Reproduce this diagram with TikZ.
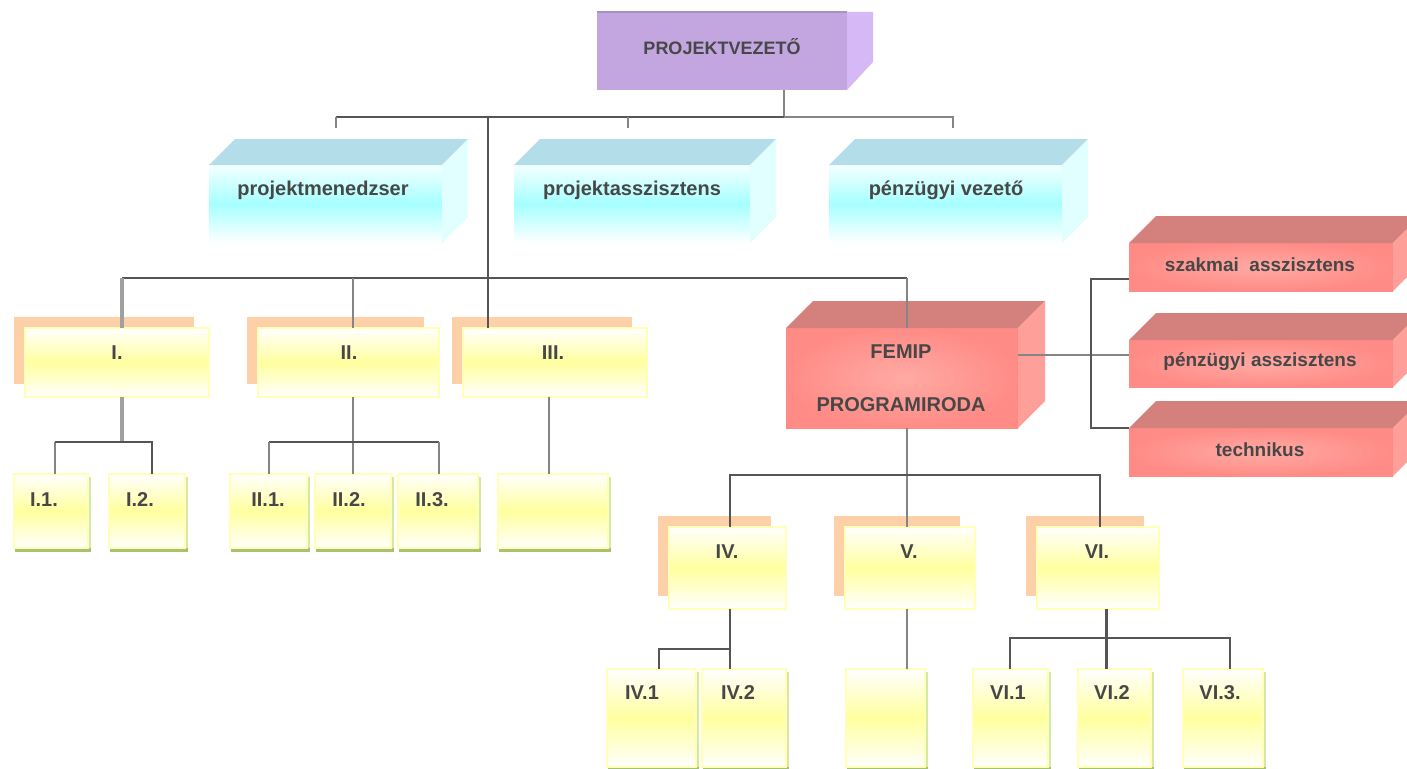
\documentclass[tikz,border=0pt]{standalone}
\usepackage{fontspec}
\setmainfont{Liberation Sans}
\usetikzlibrary{backgrounds}
\definecolor{tx}{HTML}{474747}
\definecolor{lnd}{HTML}{555555}
\definecolor{lng}{HTML}{858585}
\definecolor{lnl}{HTML}{A0A0A0}
\definecolor{pvfront}{HTML}{C3A6E0}
\definecolor{pvside}{HTML}{D7B8F7}
\definecolor{pvedge}{HTML}{A890C0}
\definecolor{btop}{HTML}{B3DDE8}
\definecolor{bside}{HTML}{E2FFFF}
\definecolor{bmid}{HTML}{A6FFFF}
\definecolor{btopf}{HTML}{F4FFFF}
\definecolor{rtop}{HTML}{D4807D}
\definecolor{rside}{HTML}{FF9F9A}
\definecolor{rin}{HTML}{FFAAA4}
\definecolor{rout}{HTML}{FF8B86}
\definecolor{shd}{HTML}{FDD0A7}
\definecolor{ymid}{HTML}{FFFF9E}
\definecolor{ybord}{HTML}{FFFFB8}
\definecolor{gpale}{HTML}{D6E8A6}
\definecolor{golive}{HTML}{A8C170}
\newcommand{\cubefaces}[4]{%
  \fill[#3] (#1.north west) -- ++(#2,-#2) -- ([shift={(#2,-#2)}]#1.north east) -- (#1.north east) -- cycle;
  \fill[#4] (#1.north east) -- ++(#2,-#2) -- ([shift={(#2,-#2)}]#1.south east) -- (#1.south east) -- cycle;}
\newcommand{\orshadow}[1]{%
  \fill[shd] ([shift={(-11,-11)}]#1.north west) rectangle ([shift={(-15,-13)}]#1.south east);}
\newcommand{\leafshadow}[1]{%
  \fill[gpale] ([shift={(3,3)}]#1.north west) rectangle ([shift={(3,3)}]#1.south east);
  \fill[golive] ([shift={(1,0)}]#1.south west) rectangle ([shift={(3,4)}]#1.south east);}
\tikzset{
  ln/.style={draw=lnd, line width=2.4pt},
  lng/.style={draw=lng, line width=2.6pt},
  lnthick/.style={draw=lnl, line width=4.2pt},
  txt/.style={font=\bfseries\fontsize{20}{22}\selectfont, text=tx, inner sep=0pt},
  txtpv/.style={font=\bfseries\fontsize{18}{20}\selectfont, text=tx, inner sep=0pt},
  txtr/.style={font=\bfseries\fontsize{19}{21}\selectfont, text=tx, inner sep=0pt},
  pvbox/.style={fill=pvfront, inner sep=0pt, outer sep=0pt},
  bluebox/.style={top color=btopf, bottom color=white, middle color=bmid, draw=none, inner sep=0pt, outer sep=0pt, minimum height=78pt},
  redbox/.style={inner color=rin, outer color=rout, draw=none, inner sep=0pt, outer sep=0pt},
  midbox/.style={top color=white, bottom color=white, middle color=ymid, draw=ybord, line width=2pt, inner sep=0pt, outer sep=0pt},
  leafbox/.style={top color=white, bottom color=white, middle color=ymid, draw=ybord, line width=2pt, inner sep=0pt, outer sep=0pt},
}
\begin{document}
\begin{tikzpicture}[x=1pt,y=-1pt]
\clip (0,0) rectangle (1407,768);

% ---------- top: PROJEKTVEZETO ----------
\node[pvbox, minimum width=250pt, minimum height=78pt] (pv) at (722,51) {};
\fill[pvside] (pv.north east) -- ++(26,0) -- ++(0,50) -- (pv.south east) -- cycle;
\draw[pvedge, line width=1.2pt] (pv.north west) -- (pv.north east);
\node[txtpv] (tpv) at (722,47) {PROJEKTVEZETŐ};

% ---------- blue boxes ----------
\node[bluebox, minimum width=233pt] (pm) at (325.5,204) {};
\node[bluebox, minimum width=236pt] (pa) at (632,204) {};
\node[bluebox, minimum width=233pt] (pf) at (945.5,204) {};
\cubefaces{pm}{26}{btop}{bside}
\cubefaces{pa}{26}{btop}{bside}
\cubefaces{pf}{26}{btop}{bside}
\node[txt] (tpm) at (323,190) {projektmenedzser};
\node[txt] (tpa) at (632,190) {projektasszisztens};
\node[txt] (tpf) at (946,190) {pénzügyi vezető};

% ---------- FEMIP ----------
\node[redbox, minimum width=232pt, minimum height=100pt] (fem) at (902,378) {};
\cubefaces{fem}{27}{rtop}{rside}
\node[txt] (tfem1) at (901,352) {FEMIP};
\node[txt] (tfem2) at (901,405) {PROGRAMIRODA};

% ---------- right red boxes ----------
\node[redbox, minimum width=264pt, minimum height=48pt] (sz) at (1261,267) {};
\node[redbox, minimum width=264pt, minimum height=47pt] (pz) at (1261,363.5) {};
\node[redbox, minimum width=264pt, minimum height=48pt] (te) at (1261,452) {};
\cubefaces{sz}{27}{rtop}{rside}
\cubefaces{pz}{27}{rtop}{rside}
\cubefaces{te}{27}{rtop}{rside}
\node[txtr] (tsz) at (1260,265) {szakmai\ \ asszisztens};
\node[txtr] (tpz) at (1260,362) {pénzügyi asszisztens};
\node[txtr] (tte) at (1260,450) {technikus};

% ---------- second level (yellow with orange shadow) ----------
\node[midbox, minimum width=184pt, minimum height=69pt] (i) at (117,362.5) {};
\node[midbox, minimum width=181pt, minimum height=69pt] (ii) at (348.5,362.5) {};
\node[midbox, minimum width=184pt, minimum height=69pt] (iii) at (555,362.5) {};
\node[midbox, minimum width=117pt, minimum height=82pt] (iv) at (727.5,568) {};
\node[midbox, minimum width=130pt, minimum height=82pt] (v) at (910,568) {};
\node[midbox, minimum width=122pt, minimum height=82pt] (vi) at (1098,568) {};

% ---------- leaves ----------
\node[leafbox, minimum width=74pt, minimum height=74pt] (i1) at (51,511) {};
\node[leafbox, minimum width=76pt, minimum height=74pt] (i2) at (147,511) {};
\node[leafbox, minimum width=77pt, minimum height=74pt] (ii1) at (268.5,511) {};
\node[leafbox, minimum width=76pt, minimum height=74pt] (ii2) at (353,511) {};
\node[leafbox, minimum width=80pt, minimum height=74pt] (ii3) at (438,511) {};
\node[leafbox, minimum width=110pt, minimum height=74pt] (iii1) at (553,511) {};
\node[leafbox, minimum width=89pt, minimum height=98pt] (iv1) at (651.5,718) {};
\node[leafbox, minimum width=84pt, minimum height=98pt] (iv2) at (744,718) {};
\node[leafbox, minimum width=79pt, minimum height=98pt] (v1) at (885.5,718) {};
\node[leafbox, minimum width=75pt, minimum height=98pt] (vi1) at (1010.5,718) {};
\node[leafbox, minimum width=73pt, minimum height=98pt] (vi2) at (1114.5,718) {};
\node[leafbox, minimum width=80pt, minimum height=98pt] (vi3) at (1223,718) {};

% shadows behind the boxes
\begin{pgfonlayer}{background}
\fill[white] (0,0) rectangle (1407,768);
\orshadow{i}\orshadow{ii}\orshadow{iii}\orshadow{iv}\orshadow{v}\orshadow{vi}
\foreach \n in {i1,i2,ii1,ii2,ii3,iii1,iv1,iv2,v1,vi1,vi2,vi3}{\leafshadow{\n}}
\end{pgfonlayer}

% texts
\node[txt] (ti) at (117,353) {I.};
\node[txt] (tii) at (349,353) {II.};
\node[txt] (tiii) at (553,353) {III.};
\node[txt] (tiv) at (727,552) {IV.};
\node[txt] (tv) at (909,552) {V.};
\node[txt] (tvi) at (1097,552) {VI.};
\node[txt] (ti1) at (44,500) {I.1.};
\node[txt] (ti2) at (140,500) {I.2.};
\node[txt] (tii1) at (268,500) {II.1.};
\node[txt] (tii2) at (349,500) {II.2.};
\node[txt] (tii3) at (432,500) {II.3.};
\node[txt] (tiv1) at (642,693) {IV.1};
\node[txt] (tiv2) at (738,693) {IV.2};
\node[txt] (tvi1) at (1008,693) {VI.1};
\node[txt] (tvi2) at (1112,693) {VI.2};
\node[txt] (tvi3) at (1220,693) {VI.3.};

% ---------- connector coordinates ----------
\coordinate (j0) at (784,117);
\coordinate (ta) at (336,117);
\coordinate (tb) at (628,117);
\coordinate (tc) at (953,117);
\coordinate (ea) at (336,128);
\coordinate (eb) at (628,128);
\coordinate (ec) at (953,128);
\coordinate (jt) at (488,117);
\coordinate (k1) at (122,278);
\coordinate (k2) at (353,278);
\coordinate (k3) at (907,278);
\coordinate (m1) at (122,442);
\coordinate (p11) at (55,442);
\coordinate (p12) at (152,442);
\coordinate (m2) at (353,442);
\coordinate (p21) at (269,442);
\coordinate (p23) at (439,442);
\coordinate (m3) at (549,442);
\coordinate (r0) at (1091,355);
\coordinate (r1) at (1091,279);
\coordinate (r3) at (1091,428);
\coordinate (n0) at (907,475);
\coordinate (n1) at (730,475);
\coordinate (n3) at (1100,475);
\coordinate (q0) at (659,649);
\coordinate (q1) at (730,649);
\coordinate (s1) at (1010,638);
\coordinate (s2) at (1106,638);
\coordinate (s3) at (1230,638);

% ---------- connectors ----------
\draw[lng] (pv.south -| j0) -- (j0);
\draw[ln] (ta) -- (j0);
\draw[lng] (j0) -- (tc) -- (ec);
\draw[lng] (ta) -- (ea);
\draw[lng] (tb) -- (eb);
\draw[ln] (jt) -- (jt |- iii.north);
\draw[ln] (k1) -- (k3);
\draw[lnthick] (k1) -- (k1 |- i.north);
\draw[lng] (k2) -- (k2 |- ii.north);
\draw[lng] (k3) -- (k3 |- fem.north);
% I children
\draw[lnthick] (m1 |- i.south) -- (m1);
\draw[lng] (p11 |- i1.north) -- (p11);
\draw[ln] (p11) -- (p12) -- (p12 |- i2.north);
% II children
\draw[lng] (m2 |- ii.south) -- (m2 |- ii2.north);
\draw[ln] (p21) -- (p23);
\draw[lng] (p21 |- ii1.north) -- (p21);
\draw[lng] (p23) -- (p23 |- ii3.north);
% III child
\draw[lng] (m3 |- iii.south) -- (m3 |- iii1.north);
% FEMIP right side
\draw[lng] (r0 -| fem.east) -- (r0 -| pz.west);
\draw[ln] (r1 -| sz.west) -- (r1) -- (r3) -- (r3 -| te.west);
% FEMIP down
\draw[lng] (n0 |- fem.south) -- (n0 |- v.north);
\draw[ln] (n1 |- iv.north) -- (n1) -- (n3) -- (n3 |- vi.north);
% IV children
\draw[ln] (q1 |- iv.south) -- (q1 |- iv2.north);
\draw[ln] (q0 |- iv1.north) -- (q0) -- (q1);
% V child
\draw[lng] (n0 |- v.south) -- (n0 |- v1.north);
% VI children
\draw[ln, line width=3pt] (s2 |- vi.south) -- (s2 |- vi2.north);
\draw[ln] (s1 |- vi1.north) -- (s1) -- (s3) -- (s3 |- vi3.north);
\end{tikzpicture}
\end{document}
